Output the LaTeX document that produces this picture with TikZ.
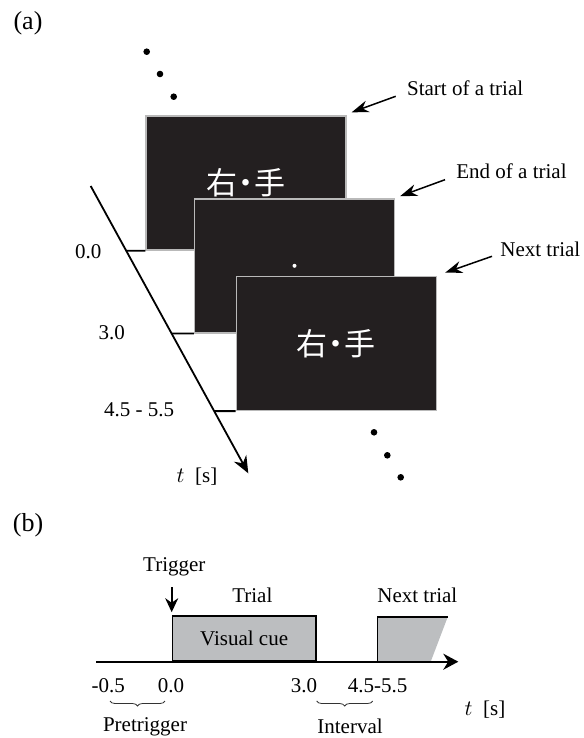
\documentclass[tikz,border=0pt]{standalone}
\usepackage{fontspec}
\setmainfont{Liberation Serif}
\newfontfamily\jpfont{Noto Sans CJK JP}
\usepackage{xcolor}
\usepackage{tikz}
\usetikzlibrary{positioning}
\usetikzlibrary{shapes,arrows,arrows.meta}
\usetikzlibrary{decorations.pathreplacing,calc}
\definecolor{screen}{RGB}{35,31,32}
\definecolor{cuegray}{RGB}{188,190,192}
\tikzstyle{screenbox} = [draw=gray!55, line width=0.7pt, fill=screen, minimum width=100pt, minimum height=67pt, text=white, font=\jpfont\fontsize{15.5}{16}\selectfont]
\tikzstyle{pointer} = [draw, -{Stealth[length=8.5pt,width=6pt]}, line width=0.75pt]
\tikzstyle{timeaxis} = [draw, -{Stealth[length=8.5pt,width=7pt]}, line width=0.9pt]
\tikzstyle{panel} = [font=\fontsize{13}{15}\selectfont]
\tikzstyle{brace} = [decorate, decoration={brace, mirror, amplitude=2.5pt}, line width=0.4pt, black!80]
\newcommand{\migite}{右\kern-3.5pt・\kern-3.5pt手}

\begin{document}
\begin{tikzpicture}[x=0.5pt, y=-0.5pt, every node/.style={inner sep=0pt, font=\fontsize{10.5}{12}\selectfont}]
\useasboundingbox (0,0) rectangle (583,738);

%% (a) screens
\node[panel] at (28,23) {(a)};
\foreach \x/\y in {146.7/51.7, 160/74, 173.7/96.7, 374/432.3, 387.3/455.3, 400.7/477.3}
    \fill (\x,\y) circle (3.3);

\node[screenbox] (card1) at (246,183) {\migite};
\node[screenbox] (card2) at (294.5,265.8) {};
\fill[white] (card2.center) circle (2);
\node[screenbox] (card3) at (336.4,343.4) {\migite};

\node[anchor=west] (start) at (406.7,88.3) {Start of a trial};
\node[anchor=west] (end) at (456,171.7) {End of a trial};
\node[anchor=west] (next) at (500,249.3) {Next trial};
\draw[pointer] ($(start.west)+(-11,8)$) -- ($(card1.north east)+(5,-3)$);
\draw[pointer] ($(end.west)+(-11,8)$) -- ($(card2.north east)+(5,-2)$);
\draw[pointer] ($(next.west)+(-8,7)$) -- ($(card3.north east)+(8,-3)$);

% time axis
\coordinate (t0) at (90.7,186);
\coordinate (t1) at (248.3,473.3);
\draw[timeaxis] (t0) -- (t1);
\foreach \c in {card1,card2,card3}
    \draw[line width=0.9pt] (intersection of t0--t1 and \c.south west--\c.south east) -- (\c.south west);
\node (lab0) at (88.3,251.7) {0.0};
\node (lab3) at (111.7,332.3) {3.0};
\node (lab45) at (139.2,409.3) {4.5 - 5.5};
\node (unita) at (197,476.7) {$t$\ \ [s]};

%% (b) timeline
\node[panel] at (28,525) {(b)};
\coordinate (b0) at (96,661.7);
\coordinate (b1) at (458.3,661.7);
\node[draw, fill=cuegray, line width=0.75pt, minimum width=71.7pt, minimum height=22.5pt, anchor=south west] (cue) at (171.7,661.7) {Visual cue};
\fill[cuegray] (377.3,661.7) -- (377.3,617) -- (447.7,617) -- (430.7,661.7) -- cycle;
\draw[line width=0.75pt] (377.3,661.7) |- (447.7,617);
\draw[draw, -{Stealth[length=7.5pt,width=8pt]}, line width=1pt] (b0) -- (b1);

\node (trig) at (174.3,566.7) {Trigger};
\draw[-{Stealth[length=7pt,width=6.5pt]}, line width=0.9pt, shorten <=5.5pt, shorten >=1.5pt] (trig.south -| cue.north west) -- (cue.north west);
\node (trial) at (252.3,595) {Trial};
\node (nexttrial) at (417.3,595) {Next trial};

\node (m05) at (108.3,686) {-0.5};
\node (z0) at (171,686) {0.0};
\node (z3) at (304,686) {3.0};
\node (z45) at (377.7,686) {4.5-5.5};
\draw[brace] (110,701) -- (165,701);
\draw[brace] (316.7,701) -- (372.7,701);
\node (pre) at (145,726.7) {Pretrigger};
\node (gap) at (350,726.7) {Interval};
\node (unitb) at (485,710) {$t$\ \ [s]};
\end{tikzpicture}
\end{document}
